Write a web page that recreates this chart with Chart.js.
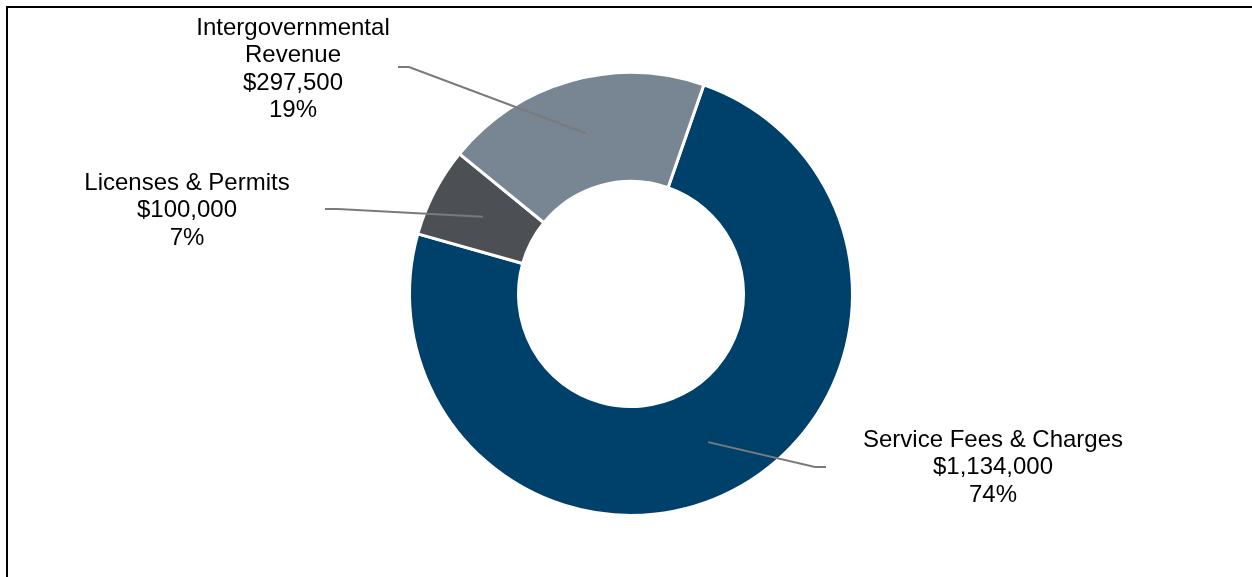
<!DOCTYPE html>
<html>
<head>
<meta charset="utf-8">
<script src="https://cdn.jsdelivr.net/npm/chart.js@4.4.1/dist/chart.umd.min.js"></script>
<style>
  html, body { margin: 0; padding: 0; background: #ffffff; }
  body { width: 1252px; height: 577px; position: relative; overflow: hidden; }
  #frame { position: absolute; left: 6px; top: 6px; width: 1260px; height: 600px;
           border-top: 2px solid #000; border-left: 2px solid #000; box-sizing: border-box; }
  #wrap { position: absolute; left: 0; top: 0; width: 1252px; height: 577px; }
</style>
</head>
<body>
<div id="frame"></div>
<div id="wrap"><canvas id="chart" width="1252" height="577"></canvas></div>
<script>
// Revenue sources (clockwise from the first slice)
const categories = ['Service Fees & Charges', 'Licenses & Permits', ['Intergovernmental', 'Revenue']];
const amounts = [1134000, 100000, 297500];
const sliceColors = ['#00416B', '#4C4F54', '#778692'];

// Callout placement for each slice: elbow of the leader, end of the leader,
// text centre x and first baseline y
const callouts = [
  { elbow: [815, 467], end: [826, 467], textX: 993, textY: 447 },
  { elbow: [338, 209], end: [325, 209], textX: 187, textY: 190 },
  { elbow: [409, 67],  end: [398, 67],  textX: 293, textY: 35 }
];

const total = amounts.reduce((a, b) => a + b, 0);
const money = v => '$' + v.toLocaleString('en-US');

const calloutPlugin = {
  id: 'callouts',
  afterDatasetsDraw(chart) {
    const ctx = chart.ctx;
    const arcs = chart.getDatasetMeta(0).data;
    ctx.save();
    arcs.forEach((arc, i) => {
      const c = callouts[i];
      const p = arc.getCenterPoint();
      ctx.strokeStyle = '#7a7a7a';
      ctx.lineWidth = 2;
      ctx.beginPath();
      ctx.moveTo(p.x, p.y);
      ctx.lineTo(c.elbow[0], c.elbow[1]);
      ctx.lineTo(c.end[0], c.end[1]);
      ctx.stroke();

      const name = categories[i];
      const lines = (Array.isArray(name) ? name.slice() : [name]);
      lines.push(money(amounts[i]));
      lines.push(Math.round(amounts[i] / total * 100) + '%');
      ctx.fillStyle = '#000000';
      ctx.font = '24px "Liberation Sans", Arial, sans-serif';
      ctx.textAlign = 'center';
      ctx.textBaseline = 'alphabetic';
      lines.forEach((t, k) => ctx.fillText(t, c.textX, c.textY + k * 27.4));
    });
    ctx.restore();
  }
};

new Chart(document.getElementById('chart'), {
  type: 'doughnut',
  data: {
    labels: categories,
    datasets: [{
      data: amounts,
      backgroundColor: sliceColors,
      borderColor: '#ffffff',
      borderWidth: 3,
      hoverOffset: 0
    }]
  },
  options: {
    responsive: false,
    animation: false,
    rotation: 19.2,
    cutout: '50.8%',
    layout: { padding: { left: 408, right: 398, top: 71, bottom: 60 } },
    plugins: { legend: { display: false }, tooltip: { enabled: false } },
    events: []
  },
  plugins: [calloutPlugin]
});
</script>
</body>
</html>
